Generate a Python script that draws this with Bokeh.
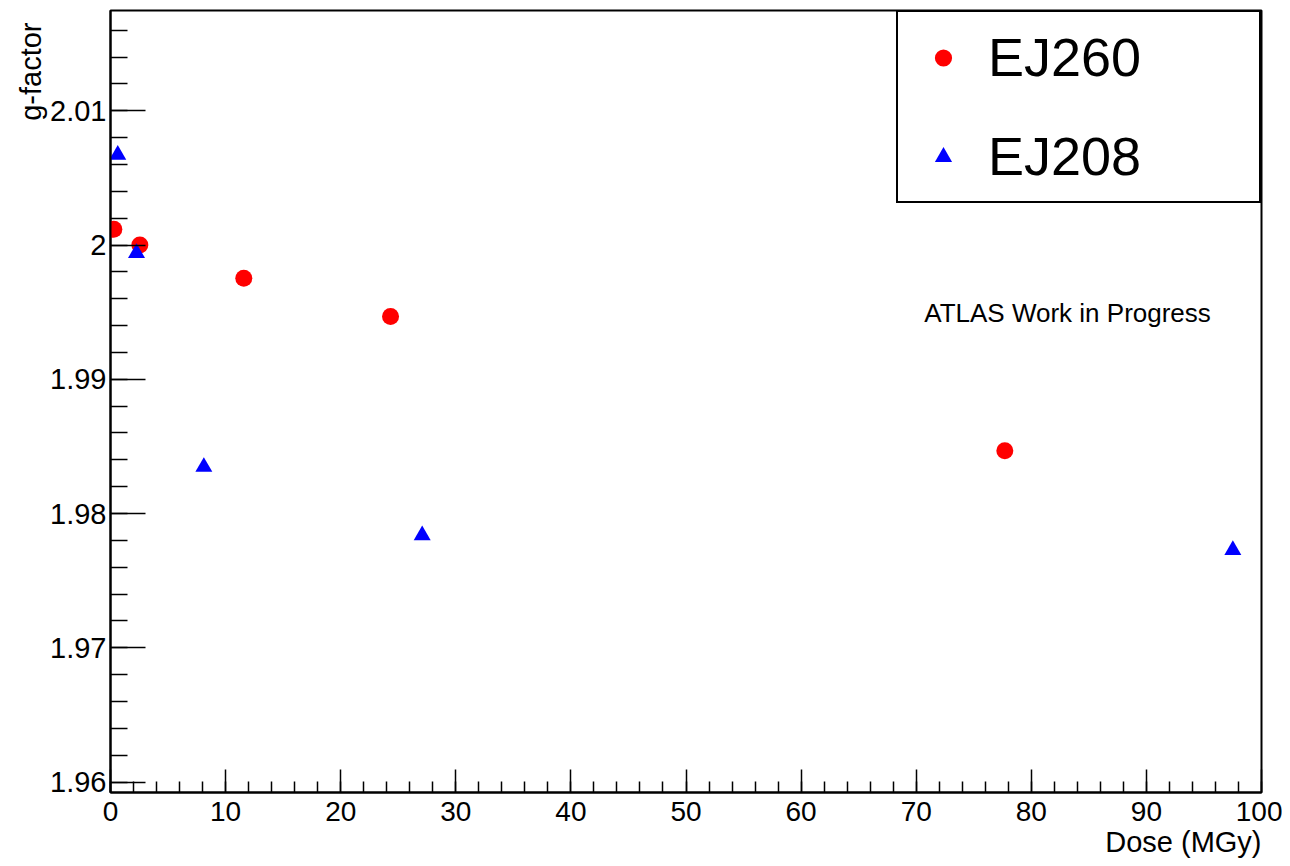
from bokeh.plotting import figure
from bokeh.models import (Range1d, SingleIntervalTicker, CustomJSTickFormatter,
                          Label, Legend, LegendItem, Title)
from bokeh.embed import file_html
from bokeh.resources import INLINE

# ---- data ----
ej260_dose = [0.29, 2.55, 11.58, 24.33, 77.70]
ej260_g = [2.00117, 2.00001, 1.99752, 1.99467, 1.98468]
ej208_dose = [0.63, 2.26, 8.11, 27.08, 97.51]
ej208_g = [2.00672, 1.99940, 1.98347, 1.97837, 1.97727]
series_names = ["EJ260", "EJ208"]
x_title = "Dose (MGy)"
y_title = "g-factor"
note_text = "ATLAS Work in Progress"

X_MIN, X_MAX = 0, 100
Y_MIN, Y_MAX = 1.95922, 2.01747
FONT = "Liberation Sans"

p = figure(width=1282, height=866, output_backend="svg", toolbar_location=None,
           x_range=Range1d(X_MIN, X_MAX), y_range=Range1d(Y_MIN, Y_MAX),
           min_border_left=110, min_border_right=21, min_border_top=10,
           min_border_bottom=74)
p.background_fill_color = "white"
p.border_fill_color = "white"
p.outline_line_color = "black"
p.outline_line_width = 2
p.grid.visible = False

r1 = p.scatter(ej260_dose, ej260_g, marker="circle", size=17,
               fill_color="#ff0000", line_color=None)
r2 = p.scatter(ej208_dose, ej208_g, marker="triangle", size=17,
               fill_color="#0000ff", line_color=None)

xa = p.xaxis[0]
xa.ticker = SingleIntervalTicker(interval=10, num_minor_ticks=5)
xa.major_tick_in = 23
xa.major_tick_out = 0
xa.minor_tick_in = 11
xa.minor_tick_out = 0
xa.axis_line_width = 2
xa.major_tick_line_width = 1.5
xa.minor_tick_line_width = 1.5
xa.major_label_text_font = FONT
xa.major_label_text_font_size = "28px"
xa.major_label_text_color = "black"
xa.major_label_standoff = 9

ya = p.yaxis[0]
ya.ticker = SingleIntervalTicker(interval=0.01, num_minor_ticks=5)
ya.formatter = CustomJSTickFormatter(code="return String(Number(tick.toFixed(4)));")
ya.major_tick_in = 35
ya.major_tick_out = 0
ya.minor_tick_in = 17
ya.minor_tick_out = 0
ya.axis_line_width = 2
ya.major_tick_line_width = 1.5
ya.minor_tick_line_width = 1.5
ya.major_label_text_font = FONT
ya.major_label_text_font_size = "29px"
ya.major_label_text_color = "black"
ya.major_label_standoff = 4

p.add_layout(Title(text=x_title, align="right", text_font=FONT,
                   text_font_size="29px", text_font_style="normal",
                   text_color="black", standoff=1, offset=0), "below")
p.add_layout(Title(text=y_title, align="right", text_font=FONT,
                   text_font_size="29px", text_font_style="normal",
                   text_color="black", standoff=2, offset=12), "left")

p.add_layout(Label(x=70.7, y=1.9949, text=note_text, text_baseline="middle",
                   text_font=FONT, text_font_size="26px", text_color="black"))

legend = Legend(items=[LegendItem(label=series_names[0], renderers=[r1]),
                       LegendItem(label=series_names[1], renderers=[r2])],
                location="top_right", margin=0, padding=14, spacing=37,
                glyph_width=62, glyph_height=43, label_height=60,
                label_width=257, label_standoff=14,
                label_text_font=FONT, label_text_font_size="54px",
                label_text_color="black",
                border_line_color="black", border_line_width=2,
                border_line_alpha=1.0,
                background_fill_color="white", background_fill_alpha=1)
p.add_layout(legend)

open("out.html", "w").write(file_html(p, INLINE))
